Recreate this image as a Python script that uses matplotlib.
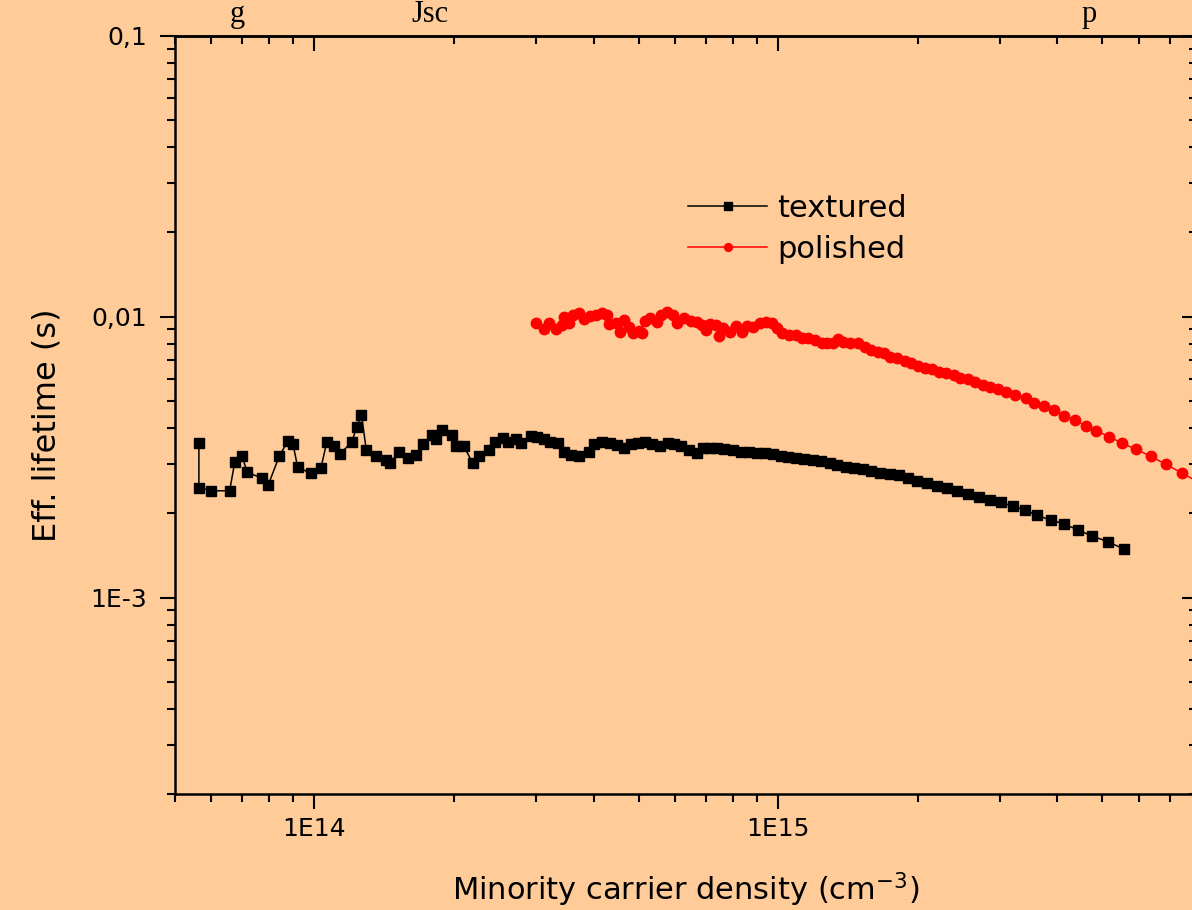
import numpy as np
import matplotlib
matplotlib.use("Agg")
import matplotlib.pyplot as plt
from matplotlib.ticker import FixedLocator, FixedFormatter, LogLocator, NullFormatter

# ── DATA ──────────────────────────────────────────────────────────────────────

# textured sample: carrier density (cm^-3) and effective lifetime (ms)
textured_n = [
    5.64e13, 5.64e13, 6.00e13, 6.57e13, 6.74e13, 6.99e13, 7.17e13, 7.73e13, 7.96e13, 8.40e13,
    8.78e13, 9.00e13, 9.21e13, 9.83e13, 1.034e14, 1.064e14, 1.103e14, 1.135e14, 1.205e14, 1.235e14,
    1.264e14, 1.295e14, 1.357e14, 1.431e14, 1.457e14, 1.522e14, 1.596e14, 1.656e14, 1.714e14, 1.793e14,
    1.829e14, 1.884e14, 1.980e14, 2.020e14, 2.098e14, 2.194e14, 2.268e14, 2.375e14, 2.447e14, 2.546e14,
    2.610e14, 2.721e14, 2.794e14, 2.935e14, 3.023e14, 3.125e14, 3.225e14, 3.349e14, 3.448e14, 3.572e14,
    3.729e14, 3.902e14, 4.018e14, 4.179e14, 4.348e14, 4.496e14, 4.657e14, 4.824e14, 4.988e14, 5.167e14,
    5.355e14, 5.558e14, 5.781e14, 5.953e14, 6.166e14, 6.439e14, 6.670e14, 6.900e14, 7.134e14, 7.390e14,
    7.655e14, 7.994e14, 8.313e14, 8.647e14, 8.992e14, 9.357e14, 9.725e14, 1.012e15, 1.048e15, 1.095e15,
    1.139e15, 1.189e15, 1.236e15, 1.294e15, 1.337e15, 1.399e15, 1.455e15, 1.522e15, 1.589e15, 1.660e15,
    1.744e15, 1.824e15, 1.909e15, 1.993e15, 2.094e15, 2.199e15, 2.309e15, 2.430e15, 2.563e15, 2.714e15,
    2.867e15, 3.029e15, 3.213e15, 3.407e15, 3.615e15, 3.864e15, 4.131e15, 4.425e15, 4.741e15, 5.138e15,
    5.557e15,
]
textured_tau_ms = [
    3.54, 2.46, 2.40, 2.40, 3.04, 3.18, 2.79, 2.66, 2.52, 3.18,
    3.62, 3.51, 2.91, 2.77, 2.90, 3.58, 3.45, 3.24, 3.58, 4.06,
    4.48, 3.34, 3.18, 3.09, 3.02, 3.29, 3.13, 3.21, 3.52, 3.80,
    3.67, 3.95, 3.78, 3.45, 3.47, 3.02, 3.20, 3.34, 3.59, 3.69,
    3.59, 3.67, 3.54, 3.76, 3.74, 3.66, 3.58, 3.56, 3.31, 3.22,
    3.19, 3.29, 3.52, 3.59, 3.54, 3.49, 3.40, 3.52, 3.56, 3.59,
    3.52, 3.45, 3.54, 3.52, 3.47, 3.34, 3.28, 3.40, 3.40, 3.40,
    3.37, 3.34, 3.31, 3.31, 3.28, 3.27, 3.24, 3.19, 3.16, 3.13,
    3.11, 3.09, 3.07, 3.02, 2.97, 2.92, 2.90, 2.86, 2.83, 2.77,
    2.76, 2.73, 2.67, 2.61, 2.55, 2.50, 2.46, 2.40, 2.34, 2.28,
    2.23, 2.18, 2.11, 2.05, 1.96, 1.89, 1.83, 1.74, 1.66, 1.58,
    1.49,
]

# polished sample
polished_n = [
    3.012e14, 3.131e14, 3.212e14, 3.315e14, 3.424e14, 3.460e14, 3.534e14, 3.611e14, 3.727e14, 3.808e14,
    3.931e14, 4.058e14, 4.164e14, 4.282e14, 4.327e14, 4.467e14, 4.563e14, 4.662e14, 4.762e14, 4.865e14,
    5.022e14, 5.077e14, 5.153e14, 5.297e14, 5.470e14, 5.586e14, 5.769e14, 5.929e14, 6.058e14, 6.281e14,
    6.484e14, 6.697e14, 6.842e14, 6.986e14, 7.137e14, 7.338e14, 7.447e14, 7.608e14, 7.854e14, 8.113e14,
    8.337e14, 8.555e14, 8.833e14, 9.118e14, 9.417e14, 9.721e14, 9.930e14, 1.019e15, 1.054e15, 1.093e15,
    1.123e15, 1.157e15, 1.198e15, 1.242e15, 1.277e15, 1.310e15, 1.343e15, 1.381e15, 1.426e15, 1.488e15,
    1.536e15, 1.587e15, 1.638e15, 1.691e15, 1.746e15, 1.803e15, 1.873e15, 1.930e15, 1.997e15, 2.071e15,
    2.146e15, 2.221e15, 2.303e15, 2.388e15, 2.470e15, 2.566e15, 2.656e15, 2.760e15, 2.868e15, 2.973e15,
    3.103e15, 3.240e15, 3.416e15, 3.565e15, 3.736e15, 3.922e15, 4.138e15, 4.361e15, 4.601e15, 4.853e15,
    5.171e15, 5.514e15, 5.917e15, 6.361e15, 6.855e15, 7.430e15, 8.08e15,
]
polished_tau_ms = [
    9.47, 9.02, 9.47, 9.02, 9.34, 10.0, 9.47, 10.14, 10.33, 9.79,
    10.06, 10.14, 10.33, 10.14, 9.42, 9.47, 8.84, 9.73, 9.21, 8.73,
    8.92, 8.73, 9.68, 9.87, 9.60, 10.14, 10.42, 10.14, 9.52, 9.87,
    9.68, 9.60, 9.34, 8.97, 9.42, 9.34, 8.54, 9.09, 8.84, 9.27,
    8.84, 9.27, 9.21, 9.47, 9.60, 9.47, 9.09, 8.77, 8.61, 8.61,
    8.38, 8.38, 8.26, 8.04, 8.08, 8.04, 8.31, 8.15, 8.04, 8.08,
    7.78, 7.61, 7.50, 7.41, 7.21, 7.11, 6.96, 6.83, 6.69, 6.58,
    6.51, 6.37, 6.32, 6.20, 6.07, 5.99, 5.87, 5.71, 5.63, 5.51,
    5.41, 5.26, 5.12, 4.94, 4.81, 4.66, 4.43, 4.29, 4.08, 3.92,
    3.74, 3.54, 3.37, 3.18, 2.98, 2.77, 2.57,
]

x_major = [1e14, 1e15]
x_labels = ["1E14", "1E15"]
y_major = [1e-3, 1e-2, 1e-1]
y_labels = ["1E-3", "0,01", "0,1"]

# ── STYLE ─────────────────────────────────────────────────────────────────────

BG = "#FFCC99"
TICK_W = 1.5
SPINE_W = 1.8
MAJ_LEN = 10.8
MIN_LEN = 5.8

fig = plt.figure(figsize=(11.92, 9.10), dpi=100, facecolor=BG)
ax = fig.add_axes([0.1465, 0.1275, 0.8578, 0.8333])
ax.set_facecolor(BG)
ax.set_xscale("log")
ax.set_yscale("log")
ax.set_xlim(5e13, 8e15)
ax.set_ylim(2e-4, 0.1)

ax.plot(textured_n, np.array(textured_tau_ms) * 1e-3, color="black", lw=1.1,
        marker="s", ms=6.8, mfc="black", mec="black", label="textured", zorder=3)
ax.plot(polished_n, np.array(polished_tau_ms) * 1e-3, color="red", lw=1.1,
        marker="o", ms=7.5, mfc="red", mec="red", label="polished", zorder=3)

# bottom / left: outward ticks with labels
ax.xaxis.set_major_locator(FixedLocator(x_major))
ax.xaxis.set_major_formatter(FixedFormatter(x_labels))
ax.xaxis.set_minor_locator(LogLocator(base=10, subs=np.arange(2, 10), numticks=20))
ax.xaxis.set_minor_formatter(NullFormatter())
ax.yaxis.set_major_locator(FixedLocator(y_major))
ax.yaxis.set_major_formatter(FixedFormatter(y_labels))
ax.yaxis.set_minor_locator(LogLocator(base=10, subs=np.arange(2, 10), numticks=20))
ax.yaxis.set_minor_formatter(NullFormatter())

ax.tick_params(which="both", direction="out", width=TICK_W, color="black",
               top=False, right=False)
ax.tick_params(which="major", length=MAJ_LEN, labelsize=18)
ax.tick_params(which="minor", length=MIN_LEN)
ax.tick_params(axis="x", which="major", pad=6)
ax.tick_params(axis="y", which="major", pad=9)
for sp in ax.spines.values():
    sp.set_linewidth(SPINE_W)

# top / right: inward ticks, no labels
top = ax.secondary_xaxis("top")
top.xaxis.set_major_locator(FixedLocator(x_major))
top.xaxis.set_minor_locator(LogLocator(base=10, subs=np.arange(2, 10), numticks=20))
top.xaxis.set_major_formatter(NullFormatter())
top.xaxis.set_minor_formatter(NullFormatter())
top.tick_params(which="both", direction="in", width=TICK_W)
top.tick_params(which="major", length=MAJ_LEN)
top.tick_params(which="minor", length=MIN_LEN)
top.spines["top"].set_linewidth(SPINE_W)

right = ax.secondary_yaxis("right")
right.yaxis.set_major_locator(FixedLocator(y_major))
right.yaxis.set_minor_locator(LogLocator(base=10, subs=np.arange(2, 10), numticks=20))
right.yaxis.set_major_formatter(NullFormatter())
right.yaxis.set_minor_formatter(NullFormatter())
right.tick_params(which="both", direction="in", width=TICK_W)
right.tick_params(which="major", length=MAJ_LEN)
right.tick_params(which="minor", length=MIN_LEN)
right.spines["right"].set_linewidth(SPINE_W)

# axis labels
ax.set_xlabel(r"Minority carrier density (cm$^{-3}$)", fontsize=22)
ax.xaxis.set_label_coords(0.5, -0.1005)
ax.set_ylabel("Eff. lifetime (s)", fontsize=23)
ax.yaxis.set_label_coords(-0.1096, 0.486)

ax.legend(loc="upper left", bbox_to_anchor=(0.502, 0.7917), frameon=False,
          fontsize=22, handlelength=2.6, handletextpad=0.33,
          labelspacing=0.41, borderpad=0, borderaxespad=0, markerscale=0.75)

# remnants of the slide title above the plot (kept inside the canvas)
fig.text(237 / 1192, 1.0, "g", fontsize=22, family="Liberation Serif",
         ha="center", va="top")
fig.text(411 / 1192, 1.0, "Jsc", fontsize=22, family="Liberation Serif",
         ha="left", va="top")
fig.text(1082 / 1192, 1.0, "p", fontsize=22, family="Liberation Serif",
         ha="left", va="top")

fig.savefig("out.png", dpi=100, facecolor=BG)
